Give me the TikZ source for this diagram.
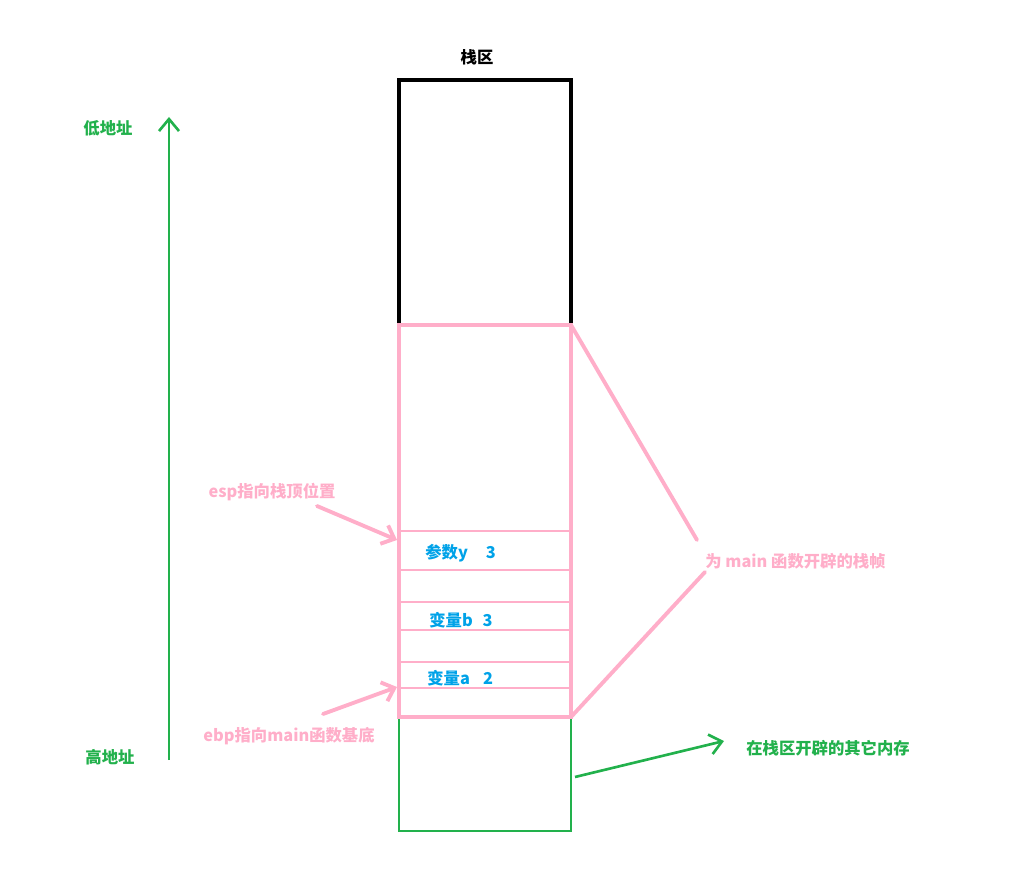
\documentclass[tikz,border=0pt]{standalone}
\usepackage{fontspec}
\setmainfont{Noto Sans CJK SC}
\usetikzlibrary{arrows.meta, positioning}

\definecolor{rose}{RGB}{255,174,201}
\definecolor{paintgreen}{RGB}{34,177,76}
\definecolor{paintblue}{RGB}{0,162,232}

\begin{document}
\begin{tikzpicture}[
  x=0.02cm, y=-0.02cm,
  font=\fontsize{9.3}{11}\selectfont\bfseries,
  lbl/.style    ={inner sep=0pt},
  cell/.style   ={inner sep=0pt, anchor=west, text=paintblue},
  % line styles -----------------------------------------------------
  stackline/.style={draw=black, line width=2.3pt},
  frameline/.style={draw=rose, line width=2.2pt},
  rowline/.style  ={draw=rose, line width=1.5pt},
  memline/.style  ={draw=paintgreen, line width=1.6pt},
  ptr/.style    ={draw=rose, line width=2.2pt, line cap=round,
                  -{Straight Barb[length=2.2mm, width=4mm]}},
  grn/.style    ={draw=paintgreen, line width=1.5pt,
                  -{Straight Barb[length=2.4mm, width=4mm]}},
]
\useasboundingbox (0,0) rectangle (1028,895);

% =========================== STACK COLUMN ===========================
\coordinate (topL)   at (399,80);
\coordinate (topR)   at (571,80);
\coordinate (frameTL) at (399,325);
\coordinate (frameTR) at (571,325);
\coordinate (frameBL) at (399,717);
\coordinate (frameBR) at (571,717);
\coordinate (memBR)  at (571,831);

\node[lbl] (title) at (477,57) {栈区};

\draw[stackline] (frameTL) -- (topL) -- (topR) -- (frameTR);
\draw[memline] (frameBL) rectangle (memBR);
\draw[frameline] (frameTL) rectangle (frameBR);
\foreach \y in {531,570,602,630,662,688}
  \draw[rowline] (399,\y) -- (571,\y);

% cell contents
\node[cell] (argy) at (425,553) {参数y\hspace{1.1em}3};
\node[cell] (varb) at (429,620) {变量b\hspace{0.6em}3};
\node[cell] (vara) at (427,678) {变量a\hspace{0.8em}2};

% =========================== ADDRESS AXIS ===========================
\coordinate (axisLow)  at (169,117);
\coordinate (axisHigh) at (169,760);
\draw[grn] (axisHigh) -- (axisLow);
\node[lbl, text=paintgreen] (low)  at (108,128) {低地址};
\node[lbl, text=paintgreen] (high) at (110,757) {高地址};

% =========================== POINTERS ===============================
\node[lbl, text=rose] (esp) at (272,492) {esp指向栈顶位置};
\node[lbl, text=rose] (ebp) at (289,736) {ebp指向main函数基底};
\coordinate (espTail) at (317,506);
\coordinate (espHead) at (397,540);
\coordinate (ebpTail) at (323,714);
\coordinate (ebpHead) at (397,687);
\draw[ptr] (espTail) -- (espHead);
\draw[ptr] (ebpTail) -- (ebpHead);

% =========================== STACK FRAME ============================
\node[lbl, anchor=west, text=rose] (frame) at (705,561) {为 main 函数开辟的栈帧};
\coordinate (braceA) at (697,540);
\coordinate (braceB) at (705,572);
\draw[frameline, line cap=round] (frameTR) -- (braceA);
\draw[frameline, line cap=round] (frameBR) -- (braceB);

% =========================== OTHER MEMORY ===========================
\node[lbl, anchor=west, text=paintgreen] (other) at (746,748) {在栈区开辟的其它内存};
\coordinate (otherTail) at (575,777);
\coordinate (otherHead) at (724,741);
\draw[grn] (otherTail) -- (otherHead);

\end{tikzpicture}
\end{document}
